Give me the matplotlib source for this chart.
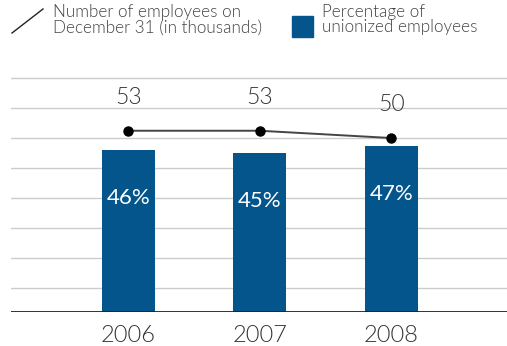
import matplotlib
matplotlib.use("Agg")
import matplotlib.pyplot as plt
from matplotlib.lines import Line2D
from matplotlib.patches import Rectangle
import numpy as np

years = ["2006", "2007", "2008"]
union_pct = [46, 45, 47]
employees = [53, 53, 50]

BAR = "#03558b"
FONT = "Lato"
WT = 300

W, H = 507, 346
fig = plt.figure(figsize=(W / 100, H / 100), dpi=100)
plt.rcParams['font.family'] = [FONT, 'DejaVu Sans']

# axes in pixel geometry
left_px, right_px, bot_px, top_px = 11, 507, 312, 70
ax = fig.add_axes([left_px / W, (H - bot_px) / H, (right_px - left_px) / W, (bot_px - top_px) / H])
px_per_pct = 3.525
ax.set_ylim(0, (bot_px - top_px) / px_per_pct)
ax.set_xlim(-0.892, 2.88)

x = np.arange(len(years))
bars = ax.bar(x, union_pct, width=0.405, color=BAR, zorder=2)

# gridlines
for gp in range(288, 70, -30):
    ax.axhline((bot_px - gp) / px_per_pct, color="#cccccc", lw=1.0, zorder=0)
ax.axhline(0, color="#222222", lw=1.3, zorder=3)

for xi, v in zip(x, union_pct):
    ax.text(xi, v - 48 / px_per_pct, f"{v}%", ha="center", va="center",
            color="white", fontsize=16, fontweight="normal", zorder=4)

ax.set_xticks(x)
ax.set_xticklabels(years, fontsize=17, color="#333333", fontweight=WT)
ax.tick_params(axis="x", length=0, pad=9)
ax.set_yticks([])
for s in ax.spines.values():
    s.set_visible(False)

# secondary axis for line
ax2 = ax.twinx()
ax2.set_ylim(-21.6, 78.0)
ax2.plot(x, employees, color="#444444", lw=1.4, marker="o", markersize=6.5,
         markerfacecolor="black", markeredgecolor="black", zorder=5)
for xi, v in zip(x, employees):
    ax2.annotate(f"{v}", (xi, v), xytext=(0, 24), textcoords="offset points",
                 ha="center", va="center", fontsize=16.5, color="#333333", fontweight=WT)
ax2.set_yticks([])
for s in ax2.spines.values():
    s.set_visible(False)

# legend
fig.add_artist(Line2D([12 / W, 43 / W], [(H - 33) / H, (H - 9) / H], color="#222222", lw=1.0))
fig.text(53 / W, (H - 4) / H, "Number of employees on\nDecember 31 (in thousands)", ha="left", va="top",
         fontsize=12.3, color="#444444", linespacing=0.95, fontweight=WT)
fig.add_artist(Rectangle((292 / W, (H - 37) / H), 21 / W, 21 / H, color=BAR))
fig.text(322 / W, (H - 4) / H, "Percentage of\nunionized employees", ha="left", va="top",
         fontsize=12.3, color="#444444", linespacing=0.95, fontweight=WT)

fig.savefig("out.png", dpi=100)
